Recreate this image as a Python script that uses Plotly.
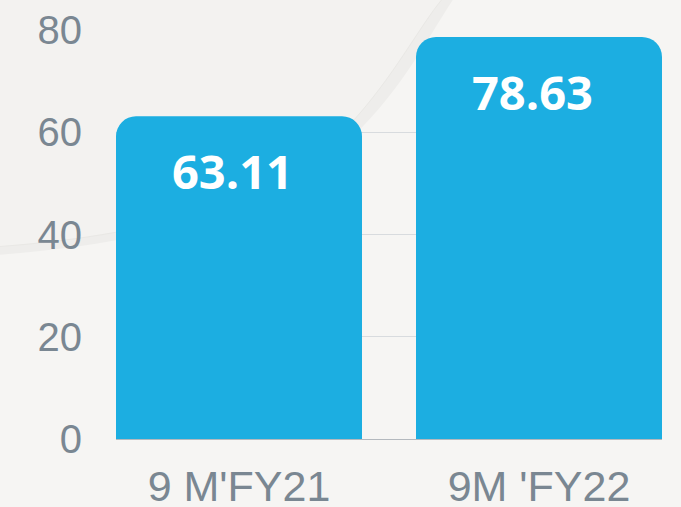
import plotly.graph_objects as go

categories = ["9 M'FY21", "9M 'FY22"]
values = [63.11, 78.63]
labels = ["63.11", "78.63"]
y_ticks = [0, 20, 40, 60, 80]

BAR = "#1caee1"
GREY = "#7a8792"

fig = go.Figure()
fig.add_trace(go.Bar(
    x=categories, y=values, width=0.82,
    marker=dict(color=BAR, cornerradius=20, line=dict(width=0)),
    hoverinfo="skip",
))

for c, v, t in zip(categories, values, labels):
    fig.add_annotation(
        x=c, y=v, text="<b>%s</b>" % t, showarrow=False,
        yanchor="top", yshift=-21, xshift=-7,
        font=dict(family="Open Sans", size=47, color="white"),
    )

# soft background blob with faint shadow
fig.add_shape(type="path", xref="paper", yref="paper", layer="below",
              path="M -0.22 0.45 C 0.1 0.48, 0.3 0.58, 0.41 0.71 S 0.57 0.98, 0.62 1.08 L -0.22 1.08 Z",
              fillcolor="#eeedeb", line=dict(width=0))
fig.add_shape(type="path", xref="paper", yref="paper", layer="below",
              path="M -0.22 0.47 C 0.1 0.5, 0.3 0.6, 0.4 0.73 S 0.55 1.0, 0.6 1.08 L -0.22 1.08 Z",
              fillcolor="#f3f2f0", line=dict(color="#e9e8e5", width=1))

fig.update_layout(
    width=681, height=507,
    margin=dict(l=116, r=19, t=30, b=68, autoexpand=False),
    paper_bgcolor="#f6f5f3", plot_bgcolor="rgba(0,0,0,0)",
    showlegend=False,
    font=dict(family="Liberation Sans", color=GREY),
)
fig.update_xaxes(
    range=[-0.41, 1.41], showgrid=False, showline=False, zeroline=False, automargin=False,
    tickfont=dict(size=43, color=GREY), ticks="", ticklabelstandoff=18,
)
fig.update_yaxes(
    range=[0, 80], tickvals=y_ticks, showgrid=True, gridcolor="#d8dbde", gridwidth=1,
    zeroline=True, zerolinecolor="#b4b9be", zerolinewidth=1, automargin=False,
    tickfont=dict(size=40, color=GREY), ticks="", ticklabelstandoff=33,
)

fig.write_html("out.html", config={"displayModeBar": False},
               post_script="document.body.style.margin='0';")
